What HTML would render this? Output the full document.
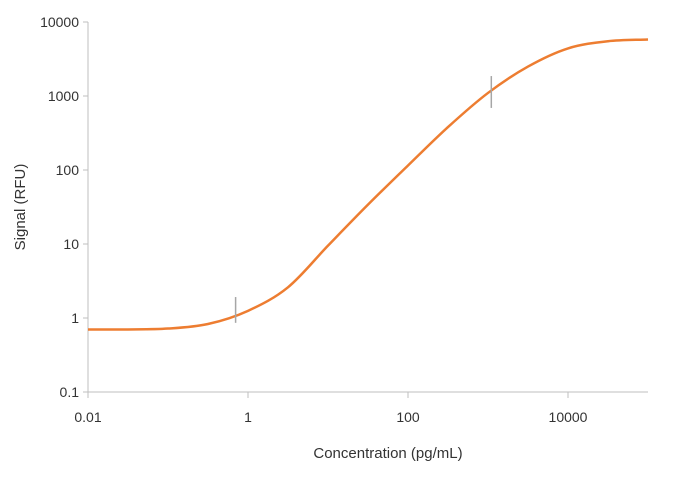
<!DOCTYPE html>
<html><head><meta charset="utf-8"><style>
body{margin:0;background:#fff;}
svg{display:block;font-family:"Liberation Sans",sans-serif;}
</style></head><body>
<svg id="chart" width="694" height="483" viewBox="0 0 694 483"></svg>
<script>
const xTickLabels=["0.01","1","100","10000"];
const xTickValues=[0.01,1,100,10000];
const yTickLabels=["0.1","1","10","100","1000","10000"];
const yTickValues=[0.1,1,10,100,1000,10000];
const curveX=[0.01,0.0316,0.1,0.316,1,3.16,10,31.6,100,316,1000,3162,10000,31623,100000];
const curveY=[0.70,0.70,0.72,0.83,1.25,2.6,9.5,34,115,380,1100,2500,4400,5500,5800];
const errX=[0.7,1100];
const errLow=[0.86,690];
const errHigh=[1.92,1860];
const NS="http://www.w3.org/2000/svg";
const svg=document.getElementById('chart');
const L=88,R=648,T=22,B=392;
function sx(v){return L+(Math.log10(v)+2)*80;}
function sy(v){return B-(Math.log10(v)+1)*74;}
function mk(t,a){const e=document.createElementNS(NS,t);for(const k in a)e.setAttribute(k,a[k]);svg.appendChild(e);return e;}
let e=mk('line',{x1:L,y1:T,x2:L,y2:B,stroke:'#bfbfbf','stroke-width':1});


e=mk('line',{x1:L,y1:B,x2:R,y2:B,stroke:'#bfbfbf','stroke-width':1});


yTickValues.forEach((v,i)=>{
 const t=mk('line',{x1:L-5,y1:sy(v),x2:L,y2:sy(v),stroke:'#bfbfbf'});
 
 
 const l=mk('text',{x:L-9,y:sy(v)+5,'text-anchor':'end','font-size':14,fill:'#333'});
 l.textContent=yTickLabels[i];
 
 
});
xTickValues.forEach((v,i)=>{
 const t=mk('line',{x1:sx(v),y1:B,x2:sx(v),y2:B+6,stroke:'#bfbfbf'});
 
 
 const l=mk('text',{x:sx(v),y:B+30,'text-anchor':'middle','font-size':14,fill:'#333'});
 l.textContent=xTickLabels[i];
 
 
});
const pts=curveX.map((x,i)=>[sx(x),sy(curveY[i])]);
let d='M'+pts[0][0]+','+pts[0][1];
for(let i=0;i<pts.length-1;i++){
 const p0=pts[Math.max(0,i-1)],p1=pts[i],p2=pts[i+1],p3=pts[Math.min(pts.length-1,i+2)];
 const c1=[p1[0]+(p2[0]-p0[0])/6,p1[1]+(p2[1]-p0[1])/6];
 const c2=[p2[0]-(p3[0]-p1[0])/6,p2[1]-(p3[1]-p1[1])/6];
 d+=' C'+c1+' '+c2+' '+p2;
}
e=mk('path',{d:d,fill:'none',stroke:'#ed7d31','stroke-width':2.5});


errX.forEach((x,i)=>{
 const b=mk('line',{x1:sx(x),y1:sy(errHigh[i]),x2:sx(x),y2:sy(errLow[i]),stroke:'#a6a6a6','stroke-width':1.5});
 
 
});
e=mk('text',{x:388,y:458,'text-anchor':'middle','font-size':15,fill:'#333'});
e.textContent='Concentration (pg/mL)';


e=mk('text',{x:0,y:0,'text-anchor':'middle','font-size':15,fill:'#333',transform:'translate(25,207) rotate(-90)'});
e.textContent='Signal (RFU)';


</script>
</body></html>
